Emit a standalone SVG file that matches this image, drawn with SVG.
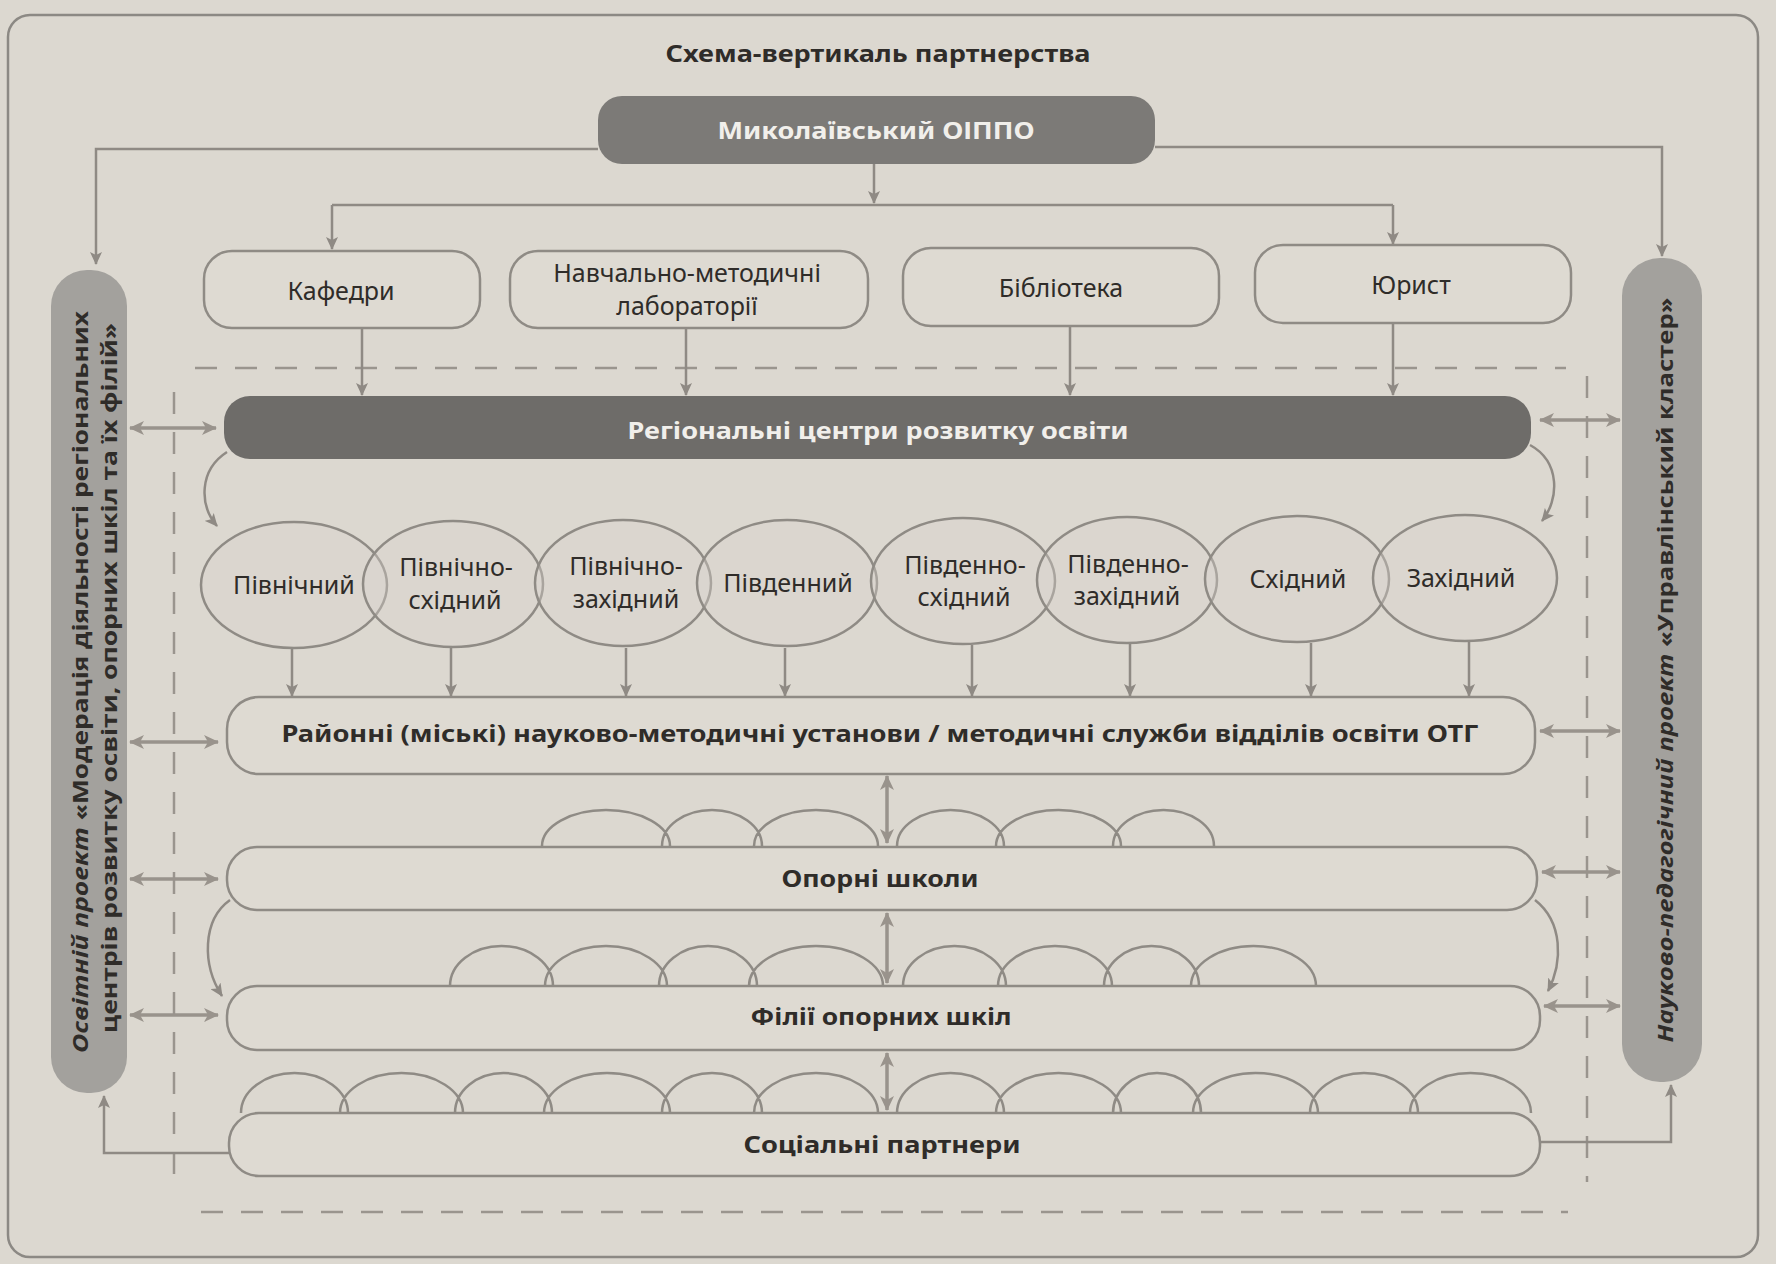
<svg xmlns="http://www.w3.org/2000/svg" width="1776" height="1264" viewBox="0 0 1776 1264">
<style>
.bg{fill:#dcd8d0}
.frame{fill:none;stroke:#8c8984;stroke-width:2.5}
.box{fill:#dedad2;stroke:#8f8b85;stroke-width:2.5}
.ell{fill:#d9d5cd;fill-opacity:0.35;stroke:#8f8b85;stroke-width:2.5}
.dark{fill:#7c7a77}
.darker{fill:#6e6c69}
.side{fill:#a3a19d}
.scal{fill:none;stroke:#8f8b85;stroke-width:2.5}
.dash{fill:none;stroke:#9a958e;stroke-width:2.5;stroke-dasharray:22 18}
.ln{fill:none;stroke:#8f8a84;stroke-width:2.5}
.ar{fill:none;stroke:#8f8a84;stroke-width:2.5;marker-end:url(#ah)}
.dar{fill:none;stroke:#99938c;stroke-width:3.5;marker-end:url(#ah2);marker-start:url(#ah2)}
.t{font-family:"Noto Sans","Open Sans",sans-serif;font-size:25px;fill:#2f2c29;text-anchor:middle}
.tb{font-family:"Noto Sans","Open Sans",sans-serif;font-size:24px;font-weight:bold;fill:#2f2c29;text-anchor:middle}
.tw{font-family:"Noto Sans","Open Sans",sans-serif;font-size:24px;font-weight:bold;fill:#f1efeb;text-anchor:middle}
.ts{font-family:"Open Sans","Noto Sans",sans-serif;font-size:22px;font-weight:bold;fill:#2f2c29;text-anchor:middle}
.it{font-style:italic}
</style>
<defs>
<marker id="ah" markerWidth="14" markerHeight="12" refX="12" refY="6" orient="auto" markerUnits="userSpaceOnUse">
<path d="M0,0 L13,6 L0,12 L3,6 z" fill="#8f8a84"/>
</marker>
<marker id="ah2" markerWidth="16" markerHeight="14" refX="14" refY="7" orient="auto-start-reverse" markerUnits="userSpaceOnUse">
<path d="M0,0 L15,7 L0,14 L4,7 z" fill="#99938c"/>
</marker>
</defs>
<rect class="bg" x="0" y="0" width="1776" height="1264"/>
<rect class="frame" x="8" y="15" width="1750" height="1242" rx="22"/>
<text class="tb" x="878" y="62" textLength="425" lengthAdjust="spacingAndGlyphs">Схема-вертикаль партнерства</text>

<g id="dashed-frame">
<line class="dash" x1="195" y1="368" x2="1566" y2="368"/>
<line class="dash" x1="174" y1="392" x2="174" y2="1192"/>
<line class="dash" x1="1587" y1="376" x2="1587" y2="1182"/>
<line class="dash" x1="201" y1="1212" x2="1568" y2="1212"/>
</g>

<g id="scallops">
<path class="scal" d="M542,846 A64,36 0 0 1 670,846 M662,846 A50,36 0 0 1 762,846 M754,846 A62,36 0 0 1 878,846 M897,846 A53.5,36 0 0 1 1004,846 M996,846 A62.5,36 0 0 1 1121,846 M1113,846 A50.5,36 0 0 1 1214,846"/>
<path class="scal" d="M450,986 A51.5,40 0 0 1 553,986 M545,986 A61,40 0 0 1 667,986 M659,986 A49,40 0 0 1 757,986 M749,986 A67,40 0 0 1 883,986 M903,986 A51.5,40 0 0 1 1006,986 M998,986 A57,40 0 0 1 1112,986 M1104,986 A47.5,40 0 0 1 1199,986 M1191,986 A62.5,40 0 0 1 1316,986"/>
<path class="scal" d="M241,1113 A53.5,40 0 0 1 348,1113 M340,1113 A61.5,40 0 0 1 463,1113 M455,1113 A48.5,40 0 0 1 552,1113 M544,1113 A63,40 0 0 1 670,1113 M662,1113 A50,40 0 0 1 762,1113 M754,1113 A62,40 0 0 1 878,1113 M897,1113 A53.5,40 0 0 1 1004,1113 M996,1113 A62.5,40 0 0 1 1121,1113 M1113,1113 A44,40 0 0 1 1201,1113 M1193,1113 A62.5,40 0 0 1 1318,1113 M1310,1113 A54,40 0 0 1 1418,1113 M1410,1113 A60.5,40 0 0 1 1531,1113"/>
</g>

<g id="connectors">
<polyline class="ar" points="598,149 96,149 96,264"/>
<polyline class="ar" points="1155,147 1662,147 1662,256"/>
<line class="ar" x1="874" y1="164" x2="874" y2="203"/>
<line class="ln" x1="332" y1="205" x2="1393" y2="205"/>
<line class="ar" x1="332" y1="205" x2="332" y2="249"/>
<line class="ar" x1="1393" y1="205" x2="1393" y2="244"/>
<line class="ar" x1="362" y1="328" x2="362" y2="395"/>
<line class="ar" x1="686" y1="328" x2="686" y2="395"/>
<line class="ar" x1="1070" y1="326" x2="1070" y2="395"/>
<line class="ar" x1="1393" y1="323" x2="1393" y2="395"/>
<line class="ar" x1="292" y1="647" x2="292" y2="696"/>
<line class="ar" x1="451" y1="648" x2="451" y2="696"/>
<line class="ar" x1="626" y1="648" x2="626" y2="696"/>
<line class="ar" x1="785" y1="648" x2="785" y2="696"/>
<line class="ar" x1="972" y1="645" x2="972" y2="696"/>
<line class="ar" x1="1130" y1="644" x2="1130" y2="696"/>
<line class="ar" x1="1311" y1="643" x2="1311" y2="696"/>
<line class="ar" x1="1469" y1="642" x2="1469" y2="696"/>
<path class="ar" d="M227,452 C199,470 199,505 217,526"/>
<path class="ar" d="M1530,445 C1561,462 1559,500 1542,521"/>
<path class="ar" d="M230,900 C202,920 202,965 222,996"/>
<path class="ar" d="M1535,900 C1563,922 1563,962 1548,991"/>
<line class="dar" x1="887" y1="776" x2="887" y2="843"/>
<line class="dar" x1="887" y1="913" x2="887" y2="983"/>
<line class="dar" x1="887" y1="1053" x2="887" y2="1110"/>
<line class="dar" x1="130" y1="428" x2="216" y2="428"/>
<line class="dar" x1="130" y1="742" x2="218" y2="742"/>
<line class="dar" x1="130" y1="879" x2="218" y2="879"/>
<line class="dar" x1="130" y1="1015" x2="218" y2="1015"/>
<line class="dar" x1="1540" y1="420" x2="1620" y2="420"/>
<line class="dar" x1="1540" y1="731" x2="1620" y2="731"/>
<line class="dar" x1="1542" y1="872" x2="1620" y2="872"/>
<line class="dar" x1="1544" y1="1006" x2="1620" y2="1006"/>
<polyline class="ar" points="229,1153 104,1153 104,1096"/>
<polyline class="ar" points="1540,1142 1671,1142 1671,1085"/>
</g>

<g id="n-oippo">
<rect class="dark" x="598" y="96" width="557" height="68" rx="24"/>
<text class="tw" x="876" y="139" textLength="317" lengthAdjust="spacingAndGlyphs">Миколаївський ОІППО</text>
</g>
<g id="n-kafedry">
<rect class="box" x="204" y="251" width="276" height="77" rx="28"/>
<text class="t" x="341" y="300">Кафедри</text>
</g>
<g id="n-labs">
<rect class="box" x="510" y="251" width="358" height="77" rx="28"/>
<text class="t" x="687" y="282">Навчально-методичні</text>
<text class="t" x="687" y="315">лабораторії</text>
</g>
<g id="n-library">
<rect class="box" x="903" y="248" width="316" height="78" rx="28"/>
<text class="t" x="1061" y="297">Бібліотека</text>
</g>
<g id="n-lawyer">
<rect class="box" x="1255" y="245" width="316" height="78" rx="28"/>
<text class="t" x="1411" y="294">Юрист</text>
</g>

<g id="n-left-project">
<rect class="side" x="51" y="270" width="76" height="823" rx="36"/>
<text class="ts" transform="translate(88,682) rotate(-90)" textLength="742" lengthAdjust="spacingAndGlyphs"><tspan class="it">Освітній проект</tspan> «Модерація діяльності регіональних</text>
<text class="ts" transform="translate(117,678) rotate(-90)" textLength="710" lengthAdjust="spacingAndGlyphs">центрів розвитку освіти, опорних шкіл та їх філій»</text>
</g>
<g id="n-right-project">
<rect class="side" x="1622" y="258" width="80" height="824" rx="38"/>
<text class="ts" transform="translate(1673,670) rotate(-90)" textLength="745" lengthAdjust="spacingAndGlyphs"><tspan class="it">Науково-педагогічний проект</tspan> «Управлінський кластер»</text>
</g>

<g id="n-regional">
<rect class="darker" x="224" y="396" width="1307" height="63" rx="26"/>
<text class="tw" x="878" y="439" textLength="501" lengthAdjust="spacingAndGlyphs">Регіональні центри розвитку освіти</text>
</g>

<g id="n-pivnichnyi"><ellipse class="ell" cx="294" cy="585" rx="93" ry="63"/><text class="t" x="294" y="594">Північний</text></g>
<g id="n-pn-skhidnyi"><ellipse class="ell" cx="453" cy="584" rx="90" ry="63"/><text class="t" x="456" y="576">Північно-</text><text class="t" x="455" y="609">східний</text></g>
<g id="n-pn-zakhidnyi"><ellipse class="ell" cx="623" cy="583" rx="88" ry="63"/><text class="t" x="626" y="575">Північно-</text><text class="t" x="626" y="608">західний</text></g>
<g id="n-pivdennyi"><ellipse class="ell" cx="787" cy="583" rx="90" ry="63"/><text class="t" x="788" y="592">Південний</text></g>
<g id="n-pd-skhidnyi"><ellipse class="ell" cx="963" cy="581" rx="92" ry="63"/><text class="t" x="965" y="574">Південно-</text><text class="t" x="964" y="606">східний</text></g>
<g id="n-pd-zakhidnyi"><ellipse class="ell" cx="1127" cy="580" rx="90" ry="63"/><text class="t" x="1128" y="573">Південно-</text><text class="t" x="1127" y="605">західний</text></g>
<g id="n-skhidnyi"><ellipse class="ell" cx="1297" cy="579" rx="92" ry="63"/><text class="t" x="1298" y="588">Східний</text></g>
<g id="n-zakhidnyi"><ellipse class="ell" cx="1465" cy="578" rx="92" ry="63"/><text class="t" x="1461" y="587">Західний</text></g>

<g id="n-district">
<rect class="box" x="227" y="697" width="1308" height="77" rx="32"/>
<text class="tb" x="880" y="742" textLength="1197" lengthAdjust="spacingAndGlyphs">Районні (міські) науково-методичні установи / методичні служби відділів освіти ОТГ</text>
</g>
<g id="n-opora">
<rect class="box" x="227" y="847" width="1310" height="63" rx="30"/>
<text class="tb" x="880" y="887" textLength="197" lengthAdjust="spacingAndGlyphs">Опорні школи</text>
</g>
<g id="n-filii">
<rect class="box" x="227" y="986" width="1313" height="64" rx="30"/>
<text class="tb" x="881" y="1025" textLength="261" lengthAdjust="spacingAndGlyphs">Філії опорних шкіл</text>
</g>
<g id="n-social">
<rect class="box" x="229" y="1113" width="1311" height="63" rx="30"/>
<text class="tb" x="882" y="1153" textLength="277" lengthAdjust="spacingAndGlyphs">Соціальні партнери</text>
</g>
</svg>
